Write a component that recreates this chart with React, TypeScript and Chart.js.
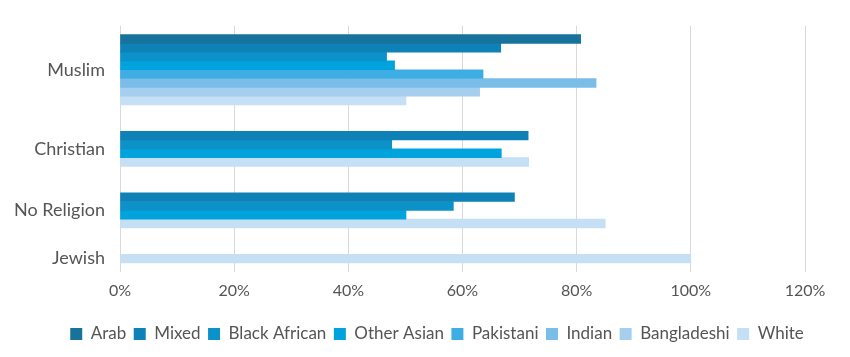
import React, { useEffect, useRef } from 'react';
import { Chart, registerables } from 'chart.js';

Chart.register(...registerables);

const religions = ['Muslim', 'Christian', 'No Religion', 'Jewish'];
const seriesNames = ['Arab', 'Mixed', 'Black African', 'Other Asian', 'Pakistani', 'Indian', 'Bangladeshi', 'White'];

// values per religion (Muslim, Christian, No Religion, Jewish); null = no bar
const arab = [80.7, null, null, null];
const mixed = [66.7, 71.5, 69.1, null];
const blackAfrican = [46.7, 47.6, 58.4, null];
const otherAsian = [48.1, 66.8, 50.1, null];
const pakistani = [63.6, null, null, null];
const indian = [83.4, null, null, null];
const bangladeshi = [63.0, null, null, null];
const white = [50.1, 71.6, 85.0, 100];

const seriesValues: (number | null)[][] = [arab, mixed, blackAfrican, otherAsian, pakistani, indian, bangladeshi, white];
const seriesColors = ['#17739b', '#0e82b6', '#0c92c8', '#00a3dc', '#3dade4', '#7bbde9', '#a6ceee', '#c5dff4'];

const xTickStep = 20;
const xMax = 120;
const gapRows = 3;

const FONT = 'Lato, "Open Sans", sans-serif';
const TEXT = '#555555';

function buildRows() {
  const labels: string[] = ['gap-top'];
  const rows: (number | null)[][] = seriesNames.map(() => [null]);
  const centers: number[] = [];
  religions.forEach((rel, ri) => {
    if (ri > 0) {
      for (let g = 0; g < gapRows; g++) {
        labels.push('gap-' + ri + '-' + g);
        rows.forEach((a) => a.push(null));
      }
    }
    const start = labels.length;
    seriesNames.forEach((s, si) => {
      const v = seriesValues[si][ri];
      if (v == null) return;
      labels.push(rel + ' – ' + s);
      rows.forEach((a, k) => a.push(k === si ? v : null));
    });
    centers.push((start + labels.length - 1) / 2);
  });
  labels.push('gap-bottom');
  rows.forEach((a) => a.push(null));
  return { labels, rows, centers };
}

const legendShift = {
  id: 'legendShift',
  afterLayout(chart: any) {
    const lg = chart.legend;
    if (lg) {
      lg.left += 12;
      lg.right += 12;
    }
  },
};

export default function App() {
  const ref = useRef<HTMLCanvasElement>(null);
  useEffect(() => {
    document.body.style.margin = '0';
    const { labels, rows, centers } = buildRows();
    const chart = new Chart(ref.current!, {
      type: 'bar',
      data: {
        labels,
        datasets: seriesNames.map((name, i) => ({
          label: name,
          data: rows[i],
          backgroundColor: seriesColors[i],
          borderWidth: 0,
          grouped: false,
          barPercentage: 1,
          categoryPercentage: 1,
        })),
      },
      plugins: [legendShift],
      options: {
        indexAxis: 'y',
        animation: false,
        responsive: false,
        layout: { padding: { top: 23, right: 0, left: 0, bottom: 4.5 } },
        scales: {
          x: {
            min: 0,
            max: xMax,
            grid: { color: '#d9d9d9', drawTicks: false },
            border: { display: false },
            afterFit: (scale: any) => {
              scale.height = scale.height + 9;
            },
            ticks: {
              stepSize: xTickStep,
              padding: 9,
              color: TEXT,
              font: { family: FONT, size: 16 },
              callback: (v: any) => v + '%',
            },
          },
          y: {
            type: 'category',
            grid: { display: false, drawTicks: false },
            border: { display: false },
            afterBuildTicks: (scale: any) => {
              scale.ticks = centers.map((c) => ({ value: c }));
            },
            afterFit: (scale: any) => {
              scale.width = 120;
            },
            ticks: {
              autoSkip: false,
              padding: 15,
              color: TEXT,
              font: { family: FONT, size: 18 },
              callback: (_v: any, i: number) => religions[i],
            },
          },
          yRightSpace: {
            type: 'linear',
            position: 'right',
            display: true,
            grid: { display: false, drawTicks: false },
            border: { display: false },
            ticks: { display: false },
            afterFit: (scale: any) => {
              scale.width = 45;
            },
          },
        },
        plugins: {
          legend: {
            position: 'bottom',
            labels: {
              boxWidth: 12,
              boxHeight: 12,
              padding: 7.5,
              color: TEXT,
              font: { family: FONT, size: 17 },
            },
          },
          tooltip: { enabled: false },
        },
      },
    });
    return () => chart.destroy();
  }, []);
  return (
    <div style={{ width: 850, height: 357 }}>
      <canvas ref={ref} width={850} height={357} />
    </div>
  );
}
